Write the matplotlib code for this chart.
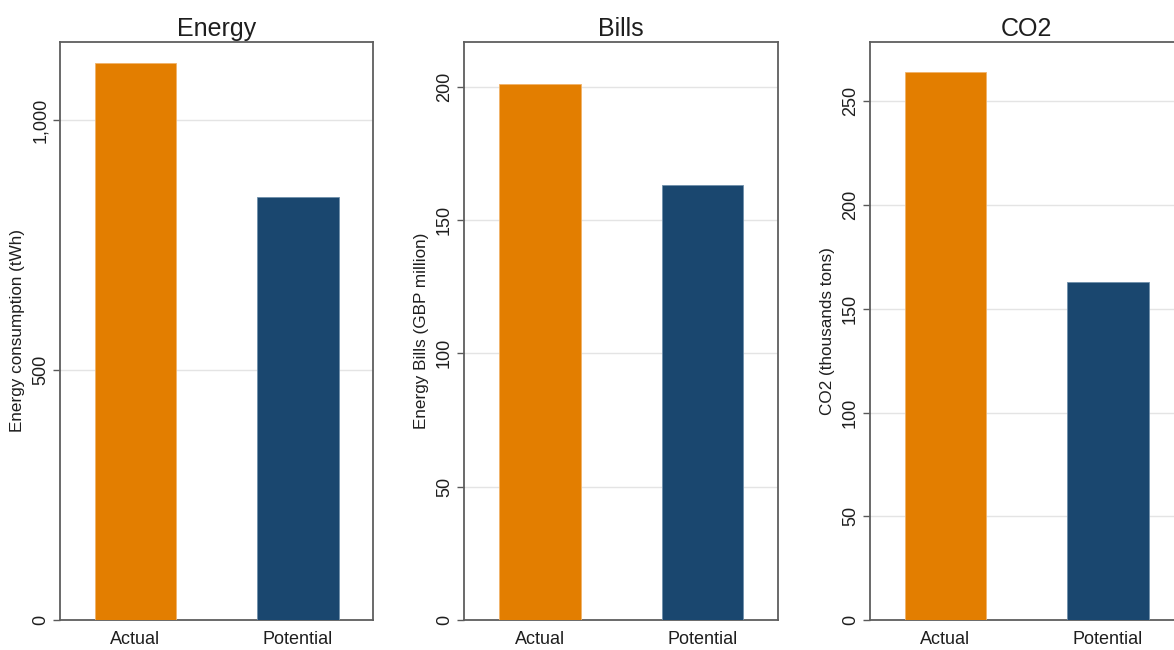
import matplotlib.pyplot as plt
from matplotlib.ticker import FuncFormatter

plt.rcParams['font.family'] = ['Liberation Sans', 'DejaVu Sans']

categories = ['Actual', 'Potential']
titles = ['Energy', 'Bills', 'CO2']
ylabels = ['Energy consumption (tWh)', 'Energy Bills (GBP million)', 'CO2 (thousands tons)']
energy = [1114, 846]
bills = [201, 163]
co2 = [264, 163]
yticks = [[0, 500, 1000], [0, 50, 100, 150, 200], [0, 50, 100, 150, 200, 250]]
ytops = [1156, 216.7, 278.6]

colors = ['#E37E00', '#1A476F']
W, H = 1174, 650
fig = plt.figure(figsize=(W / 100, H / 100), dpi=100)

# panel left/right edges in pixels (last one runs off the canvas)
edges = [(60, 373), (464, 778), (870, 1183)]
top, bottom = 42, 620

for (l, r), title, ylab, vals, ticks, ytop in zip(edges, titles, ylabels,
                                                  [energy, bills, co2], yticks, ytops):
    ax = fig.add_axes([l / W, (H - bottom) / H, (r - l) / W, (bottom - top) / H])
    ax.bar(range(len(categories)), vals, width=0.5, color=colors,
           edgecolor=['#f0b36a', '#6f8fab'], linewidth=0.6, zorder=3)
    ax.set_xlim(-0.465, 1.462)
    ax.set_ylim(0, ytop)
    ax.set_yticks(ticks)
    ax.yaxis.set_major_formatter(FuncFormatter(lambda v, p: f'{int(v):,}'))
    ax.set_xticks(range(len(categories)))
    ax.set_xticklabels(categories)
    ax.grid(axis='y', color='#e4e4e4', linewidth=1.0, zorder=0)
    ax.tick_params(axis='x', length=0, pad=8, labelsize=13, labelcolor='#1e1e1e')
    ax.tick_params(axis='y', length=5, width=1.0, color='#595959', pad=3,
                   labelsize=13, labelcolor='#1e1e1e', labelrotation=90)
    for lbl in ax.get_yticklabels():
        lbl.set_va('center')
    for s in ax.spines.values():
        s.set_color('#5e5e5e')
        s.set_linewidth(1.3)
    ax.set_title(title, fontsize=18, color='#1e1e1e', pad=4)
    ax.set_ylabel(ylab, fontsize=12.3, color='#1e1e1e', labelpad=5)

fig.savefig('out.png', dpi=100)
